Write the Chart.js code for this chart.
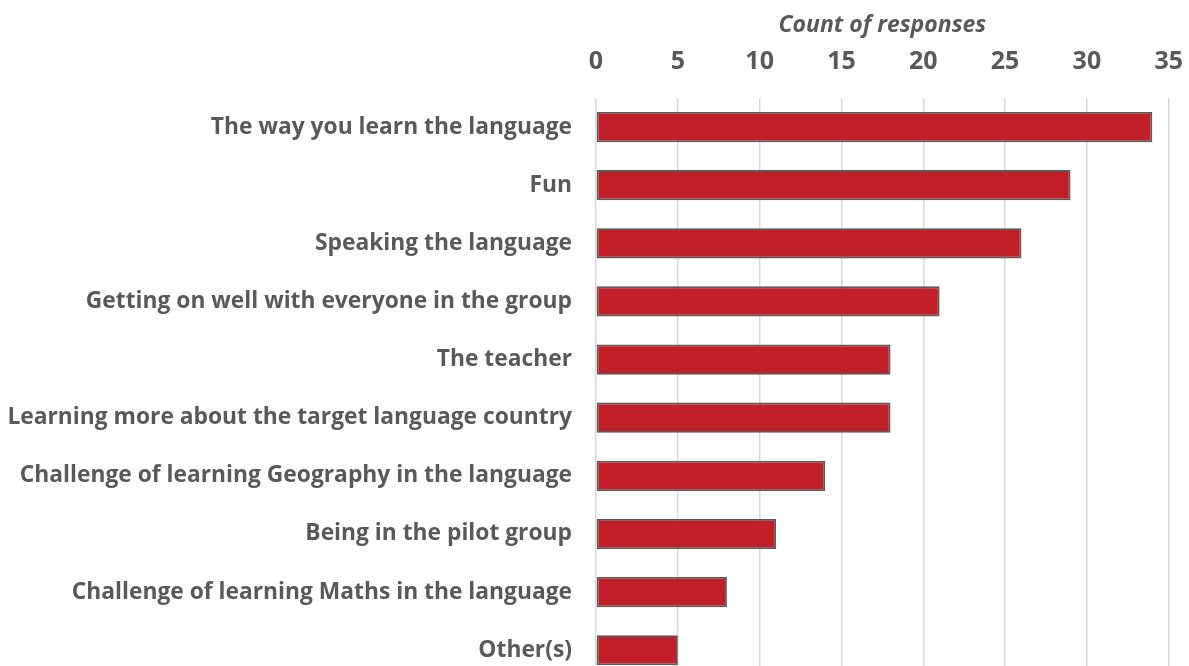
<!DOCTYPE html>
<html>
<head>
<meta charset="utf-8">
<script src="https://cdn.jsdelivr.net/npm/chart.js@4.4.0/dist/chart.umd.min.js"></script>
<style>
  html, body { margin: 0; padding: 0; background: #fff; overflow: hidden; }
  canvas { display: block; }
</style>
</head>
<body>
<canvas id="chart" width="1204" height="717"></canvas>
<script>
// Datos del gráfico
const categories = [
    'The way you learn the language',
    'Fun',
    'Speaking the language',
    'Getting on well with everyone in the group',
    'The teacher',
    'Learning more about the target language country',
    'Challenge of learning Geography in the language',
    'Being in the pilot group',
    'Challenge of learning Maths in the language',
    'Other(s)'
];
const responses = [34, 29, 26, 21, 18, 18, 14, 11, 8, 5];
const axisTitle = 'Count of responses';
const xMin = 0;
const xMax = 35;
const xStep = 5;

const textGray = '#595959';
const fontFamily = '"Open Sans", "Noto Sans", sans-serif';

// El lienzo es algo mayor que la ventana: el borde inferior queda recortado como en el original
const ctx = document.getElementById('chart').getContext('2d');
const chart = new Chart(ctx, {
    type: 'bar',
    data: {
        labels: categories,
        datasets: [{
            label: axisTitle,
            data: responses,
            backgroundColor: '#C01F27',
            borderColor: '#5a5a5a',
            borderWidth: 1.8,
            borderSkipped: false,
            barPercentage: 0.52,
            categoryPercentage: 1
        }]
    },
    options: {
        indexAxis: 'y',
        responsive: false,
        animation: false,
        layout: { padding: { top: 0, right: 4, bottom: 0, left: 0 } },
        plugins: {
            legend: { display: false },
            tooltip: { enabled: false }
        },
        scales: {
            x: {
                position: 'top',
                min: xMin,
                max: xMax,
                ticks: {
                    stepSize: xStep,
                    color: textGray,
                    padding: 21,
                    font: { family: fontFamily, size: 25, weight: 'bold' }
                },
                grid: { color: '#d9d9d9', lineWidth: 1.5, drawTicks: false },
                border: { display: false },
                title: {
                    display: true,
                    text: axisTitle,
                    color: textGray,
                    padding: { top: 12, bottom: 0 },
                    font: { family: fontFamily, size: 23, weight: 'bold', style: 'italic' }
                },
                afterFit: (scale) => { scale.height = 98; }
            },
            y: {
                ticks: {
                    color: textGray,
                    padding: 24,
                    font: { family: fontFamily, size: 22.8, weight: 'bold' }
                },
                grid: { display: false, drawTicks: false },
                border: { display: false },
                afterFit: (scale) => { scale.width = 596; }
            }
        }
    }
});
</script>
</body>
</html>
